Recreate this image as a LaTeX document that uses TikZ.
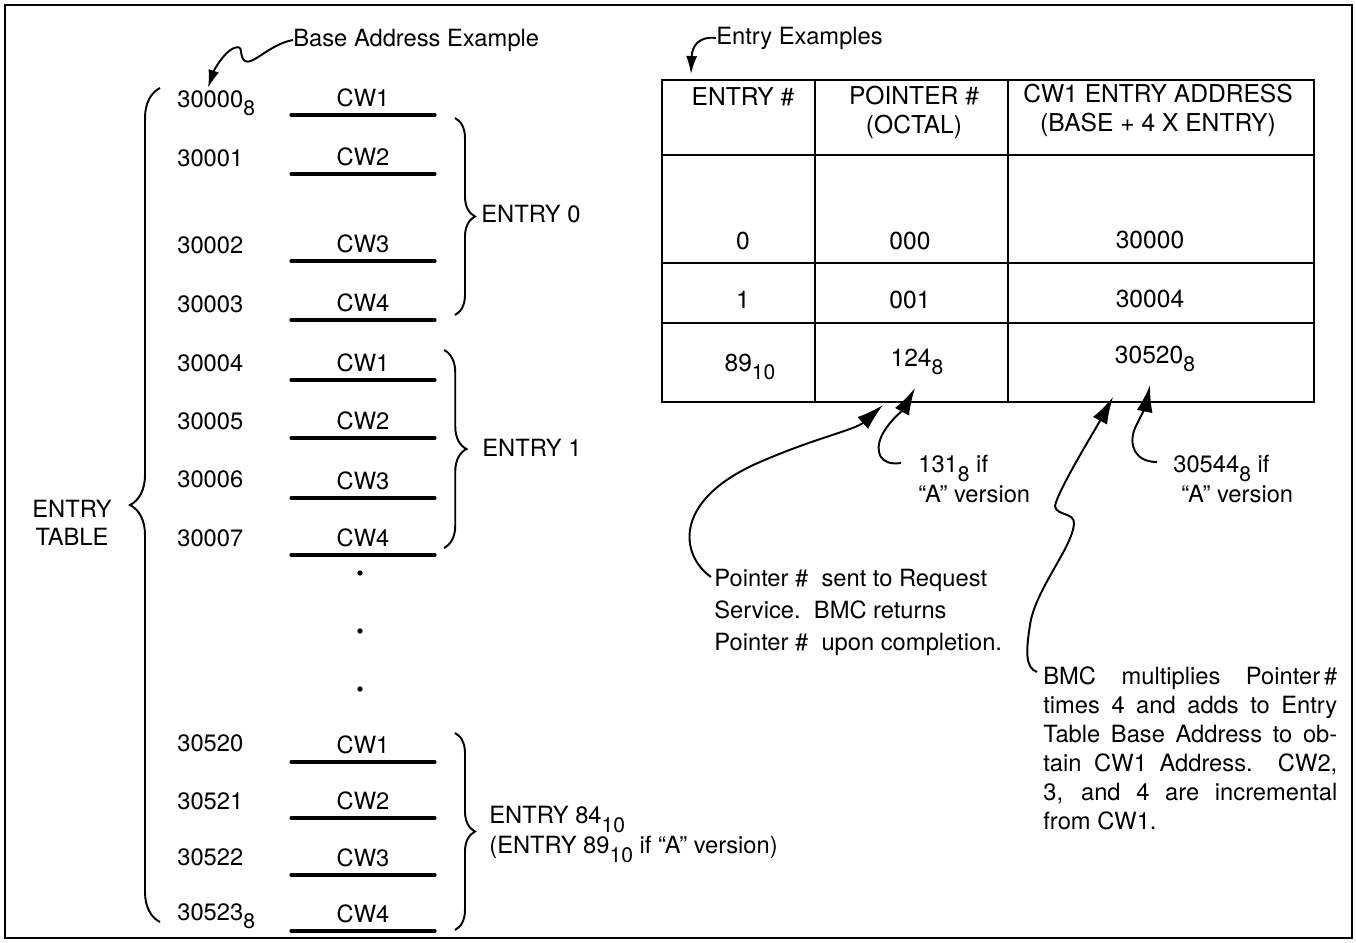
\documentclass[tikz,border=0pt]{standalone}
\usepackage{fontspec}
\setmainfont{TeX Gyre Heros}
\usetikzlibrary{arrows.meta,positioning,calc,decorations.pathreplacing}
\newcommand\lowx[1]{\raisebox{-5pt}{\fontsize{12}{12}\selectfont #1}}

\begin{document}
\begin{tikzpicture}[
    x=0.02cm, y=-0.02cm,
    every node/.style={inner sep=0pt, font=\fontsize{13.5}{17}\selectfont},
    addr/.style={anchor=base west},
    cw/.style={anchor=south, minimum width=2.86cm, text depth=0pt, inner ysep=4.5pt},
    rule/.style={line width=2pt, line cap=round},
    brc/.style={decorate, line width=1.1pt, decoration={brace, amplitude=#1}},
    lbl/.style={anchor=west},
    note/.style={align=left, anchor=north west},
    cell/.style={anchor=base, align=center, font=\fontsize{14}{16.5}\selectfont},
    tbl/.style={line width=1.6pt},
    dot/.style={circle, fill, minimum size=3pt},
    arr/.style={-{Latex[length=0.54cm, width=0.32cm]}, line width=1.1pt},
    sarr/.style={-{Latex[length=0.36cm, width=0.22cm]}, line width=1.1pt}]

    \useasboundingbox (0,0) rectangle (1356,943);
    \draw[line width=1.2pt] (5,5) rectangle (1352,938);

    % ── entry table, left column ─────────────────────────────
    \node[addr] (a0) at (177,107) {30000\lowx{8}};
    \node[addr] (a1) at (177,166) {30001};
    \node[addr] (a2) at (177,253) {30002};
    \node[addr] (a3) at (177,312) {30003};
    \node[addr] (a4) at (177,371) {30004};
    \node[addr] (a5) at (177,429) {30005};
    \node[addr] (a6) at (177,487) {30006};
    \node[addr] (a7) at (177,546) {30007};
    \node[addr] (a8) at (177,751) {30520};
    \node[addr] (a9) at (177,809) {30521};
    \node[addr] (a10) at (177,865) {30522};
    \node[addr] (a11) at (177,920) {30523\lowx{8}};

    \node[cw] (c0) at (363,115) {CW1};
    \node[cw] (c1) at (363,174) {CW2};
    \node[cw] (c2) at (363,261) {CW3};
    \node[cw] (c3) at (363,320) {CW4};
    \node[cw] (c4) at (363,380) {CW1};
    \node[cw] (c5) at (363,438) {CW2};
    \node[cw] (c6) at (363,498) {CW3};
    \node[cw] (c7) at (363,555) {CW4};
    \node[cw] (c8) at (363,762) {CW1};
    \node[cw] (c9) at (363,818) {CW2};
    \node[cw] (c10) at (363,875) {CW3};
    \node[cw] (c11) at (363,931) {CW4};
    \draw[rule] (c0.south west) -- (c0.south east);
    \draw[rule] (c1.south west) -- (c1.south east);
    \draw[rule] (c2.south west) -- (c2.south east);
    \draw[rule] (c3.south west) -- (c3.south east);
    \draw[rule] (c4.south west) -- (c4.south east);
    \draw[rule] (c5.south west) -- (c5.south east);
    \draw[rule] (c6.south west) -- (c6.south east);
    \draw[rule] (c7.south west) -- (c7.south east);
    \draw[rule] (c8.south west) -- (c8.south east);
    \draw[rule] (c9.south west) -- (c9.south east);
    \draw[rule] (c10.south west) -- (c10.south east);
    \draw[rule] (c11.south west) -- (c11.south east);

    \node[dot] (d1) at (360,573) {};
    \node[dot] (d2) at (360,631) {};
    \node[dot] (d3) at (360,689) {};

    % braces
    \draw[brc=0.6cm] (160,922) -- (160,88);
    \node[align=center, anchor=north, font=\fontsize{13.5}{16}\selectfont] (et) at (72,500) {ENTRY\\TABLE};
    \draw[brc=0.4cm] (455,118) -- (455,315);
    \node[lbl] (e0) at (481,214) {ENTRY 0};
    \draw[brc=0.45cm] (444,350) -- (444,548);
    \node[lbl] (e1) at (482,448) {ENTRY 1};
    \draw[brc=0.4cm] (455,733) -- (455,930);
    \node[note] (e84) at (489,806) {ENTRY 84\lowx{10}\\(ENTRY 89\lowx{10} if “A” version)};

    % base address pointer
    \node[lbl] (bae) at (293,40) {Base Address Example};
    \coordinate (tipB) at (208,88);
    \draw[sarr] (bae.west) .. controls (270,44) and (252,66) .. (245,61)
        .. controls (238,56) and (245,44) .. (234,48)
        .. controls (224,52) and (214,70) .. (tipB);

    % ── entry examples ───────────────────────────────────────
    \node[lbl] (ee) at (716,38) {Entry Examples};
    \coordinate (tipE) at (691,74);
    \draw[sarr] (ee.west) .. controls (700,36) and (692,45) .. (tipE);

    \draw[tbl] (662,80) rectangle (1314,402);
    \draw[tbl] (815,80) -- (815,402);
    \draw[tbl] (1008,80) -- (1008,402);
    \draw[tbl] (662,155) -- (1314,155);
    \draw[tbl] (662,263) -- (1314,263);
    \draw[tbl] (662,323) -- (1314,323);

    \node[cell] (h1) at (743,105) {ENTRY \#};
    \node[cell, anchor=center] (h2) at (914,112) {POINTER \#\\(OCTAL)};
    \node[cell, anchor=center] (h3) at (1158,110) {CW1 ENTRY ADDRESS\\(BASE + 4 X ENTRY)};
    \node[cell] (r1a) at (743,249) {0};
    \node[cell] (r1b) at (910,249) {000};
    \node[cell] (r1c) at (1150,248) {30000};
    \node[cell] (r2a) at (743,308) {1};
    \node[cell] (r2b) at (910,308) {001};
    \node[cell] (r2c) at (1150,307) {30004};
    \node[cell] (r3a) at (750,371) {89\lowx{10}};
    \node[cell] (r3b) at (917,366) {124\lowx{8}};
    \node[cell] (r3c) at (1155,363) {30520\lowx{8}};

    % notes below the table
    \node[note] (v131) at (918,455) {131\lowx{8} if\\“A” version};
    \node[note] (v305) at (1173,455) {30544\lowx{8} if\\\hspace*{0.16cm}“A” version};
    \node[note, font=\fontsize{13.5}{18.2}\selectfont] (ptr) at (714,569)
      {Pointer \#\ \ sent to Request\\Service.\ \ BMC returns\\Pointer \#\ \ upon completion.};
    \node[note, align=justify, text width=5.88cm, font=\fontsize{13.5}{16.5}\selectfont] (bmc) at (1043,666)
      {BMC multiplies Pointer\,\#\linebreak times 4 and adds to Entry\linebreak
       Table Base Address to ob-\linebreak tain CW1 Address.\ \ CW2,\linebreak
       3, and 4 are incremental\linebreak from CW1.};

    \coordinate (tipP) at (883,405);
    \coordinate (tip1) at (915,388);
    \coordinate (tipM) at (1113,397);
    \coordinate (tip3) at (1150,385);
    \draw[arr] ($(ptr.north west)+(-3,8)$) .. controls (680,555) and (672,500) .. (760,462)
        .. controls (815,438) and (855,430) .. (tipP);
    \draw[arr] ($(v131.north west)+(-17,8)$) .. controls (880,466) and (874,452) .. (882,435)
        .. controls (890,420) and (903,410) .. (tip1);
    \draw[arr] ($(v305.north west)+(-16,7)$) .. controls (1135,462) and (1128,445) .. (1135,428)
        .. controls (1140,418) and (1146,405) .. (tip3);
    \draw[arr] ($(bmc.north west)+(-6,6)$) .. controls (1025,668) and (1026,650) .. (1030,625)
        .. controls (1035,590) and (1072,548) .. (1074,524)
        .. controls (1075,512) and (1056,516) .. (1055,506)
        .. controls (1058,490) and (1095,430) .. (tipM);

\end{tikzpicture}
\end{document}
